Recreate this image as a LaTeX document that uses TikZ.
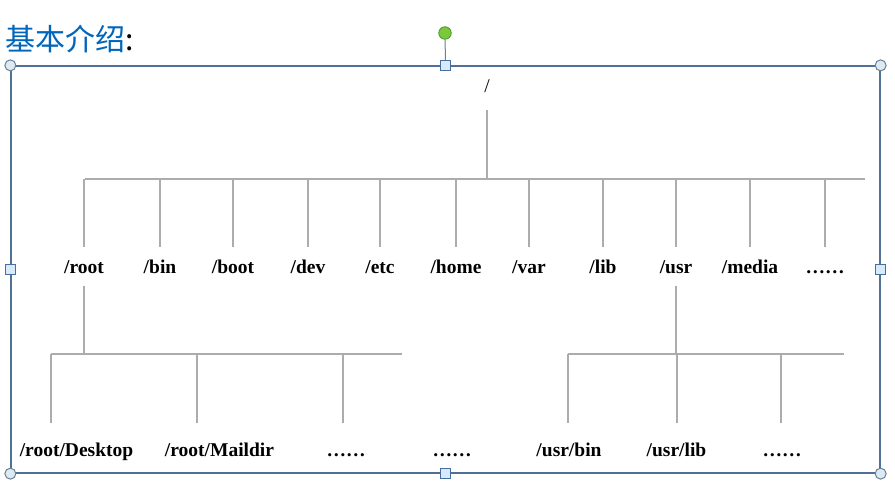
\documentclass[tikz,border=0pt]{standalone}
\usepackage{fontspec}
\setmainfont{Liberation Serif}
\newfontfamily\cjk{Noto Sans CJK SC}
\definecolor{ttl}{RGB}{0,102,187}
\definecolor{ln}{RGB}{172,172,172}
\definecolor{frm}{RGB}{80,112,150}
\definecolor{hfill}{RGB}{222,234,242}
\definecolor{hdraw}{RGB}{105,128,152}
\definecolor{sqfill}{RGB}{214,234,250}
\definecolor{sqdraw}{RGB}{72,110,160}
\definecolor{grfill}{RGB}{122,200,60}
\definecolor{grdraw}{RGB}{80,150,40}
\begin{document}
\begin{tikzpicture}[x=1pt,y=-1pt,
  lbl/.style={font=\fontsize{19.5}{22}\selectfont\bfseries, inner sep=0pt, text height=14pt, text depth=4pt, anchor=base},
  tree/.style={ln, line width=1.8pt},
  cornerh/.style={circle, draw=hdraw, fill=hfill, line width=1pt, minimum size=11pt, inner sep=0pt},
  sideh/.style={rectangle, draw=sqdraw, fill=sqfill, line width=1pt, minimum size=9.5pt, inner sep=0pt},
  roth/.style={circle, draw=grdraw, fill=grfill, line width=0.8pt, minimum size=12.5pt, inner sep=0pt}]
\useasboundingbox (0,0) rectangle (895,491);
\fill[white] (0,0) rectangle (895,491);

% title
\node[anchor=base west, inner sep=0pt, font=\cjk\fontsize{30}{34}\selectfont, text=ttl] (title) at (5,50) {基本介绍\textcolor{black}{:}};

% frame
\node[draw=frm, line width=1.3pt, minimum width=869pt, minimum height=407pt, inner sep=0pt] (frame) at (445.5,269.5) {};

% root label
\node[lbl, font=\fontsize{19.5}{22}\selectfont] (r0) at (487,92) {/};

% bus coordinates
\coordinate (b0) at (487,179);
\coordinate (bL) at (85,179);
\coordinate (bR) at (865,179);

% row 1 labels
\node[lbl] (lroot)  at (84,273)  {/root};
\node[lbl] (lbin)   at (160,273) {/bin};
\node[lbl] (lboot)  at (233,273) {/boot};
\node[lbl] (ldev)   at (308,273) {/dev};
\node[lbl] (letc)   at (380,273) {/etc};
\node[lbl] (lhome)  at (456,273) {/home};
\node[lbl] (lvar)   at (529,273) {/var};
\node[lbl] (llib)   at (603,273) {/lib};
\node[lbl] (lusr)   at (676,273) {/usr};
\node[lbl] (lmedia) at (750,273) {/media};
\node[lbl] (ldots)  at (825,273) {……};

% row 2 labels
\node[lbl] (ldesk)  at (76.5,456) {/root/Desktop};
\node[lbl] (lmail)  at (219.5,456) {/root/Maildir};
\node[lbl] (ldots2) at (346,456) {……};
\node[lbl] (ldots3) at (452,456) {……};
\node[lbl] (lubin)  at (569,456) {/usr/bin};
\node[lbl] (lulib)  at (676.5,456) {/usr/lib};
\node[lbl] (ldots4) at (782,456) {……};

% row 2 bus coordinates
\coordinate (rb) at (84,354);
\coordinate (rbL) at (51,354);
\coordinate (rbR) at (402,354);
\coordinate (rdk) at (51,423);
\coordinate (rml) at (197,423);
\coordinate (rdt) at (343,423);
\coordinate (ub) at (676,354);
\coordinate (ubL) at (568,354);
\coordinate (ubR) at (844,354);
\coordinate (ubn) at (568,423);
\coordinate (uli) at (677,423);
\coordinate (udt) at (781,423);

% top connectors
\draw[tree, shorten <=14pt] (r0.south) -- (b0);
\draw[tree] (bL) -- (bR);
\foreach \n in {lroot,lbin,lboot,ldev,letc,lhome,lvar,llib,lusr,lmedia,ldots}
  \draw[tree, shorten >=12pt] (\n.north |- b0) -- (\n.north);

% /root subtree
\draw[tree, shorten <=9pt] (lroot.south) -- (rb);
\draw[tree] (rbL) -- (rbR);
\draw[tree] (rdk |- rb) -- (rdk);
\draw[tree] (rml |- rb) -- (rml);
\draw[tree] (rdt |- rb) -- (rdt);

% /usr subtree
\draw[tree, shorten <=9pt] (lusr.south) -- (ub);
\draw[tree] (ubL) -- (ubR);
\draw[tree] (ubn |- ub) -- (ubn);
\draw[tree] (uli |- ub) -- (uli);
\draw[tree] (udt |- ub) -- (udt);

% selection handles
\node[roth] (rot) at (445,33) {};
\draw[hdraw, line width=1pt] (rot) -- (frame.north);
\foreach \a in {north west,north east,south west,south east}
  \node[cornerh] at (frame.\a) {};
\foreach \a in {north,south,west,east}
  \node[sideh] at (frame.\a) {};
\end{tikzpicture}
\end{document}
